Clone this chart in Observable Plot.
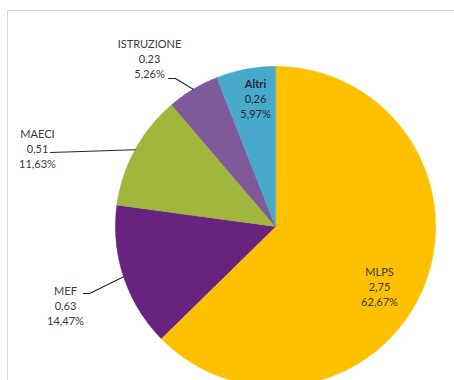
<!DOCTYPE html>
<html><head><meta charset="utf-8">
<script src="https://cdn.jsdelivr.net/npm/d3@7"></script>
<script src="https://cdn.jsdelivr.net/npm/@observablehq/plot@0.6"></script>
<style>
html,body{margin:0;padding:0;background:#fff;}
#wrap{position:relative;width:454px;height:380px;overflow:hidden;}
#frame{position:absolute;left:7px;top:10px;width:460px;height:400px;border:1px solid #d9d9d9;box-sizing:border-box;pointer-events:none;}
#chart{position:absolute;left:0;top:0;}
</style></head><body>
<div id="wrap"><div id="chart"></div><div id="frame"></div></div>
<script>
// ---- data ----
const categories = ["MLPS", "MEF", "MAECI", "ISTRUZIONE", "Altri"];
const values = [2.75, 0.63, 0.51, 0.23, 0.26];
const valueLabels = ["2,75", "0,63", "0,51", "0,23", "0,26"];
const shares = [62.67, 14.47, 11.63, 5.26, 5.97];
const shareLabels = ["62,67%", "14,47%", "11,63%", "5,26%", "5,97%"];
const colors = ["#FFC000", "#68237F", "#A1B63C", "#7E5A9B", "#49A9CB"];

// ---- layout (unit-circle coordinates: pie radius = 1) ----
const labelPos = {
  "MLPS": [0.65, -0.381],
  "Altri": [-0.125, 0.794],
  "ISTRUZIONE": [-0.7875, 1.041],
  "MAECI": [-1.4875, 0.484],
  "MEF": [-1.3125, -0.50]
};
const leaderStart = {
  "ISTRUZIONE": [[-0.669, 0.925], [-0.625, 0.925]],
  "MAECI": [[-1.406, 0.4625]],
  "MEF": [[-1.20, -0.419], [-1.1625, -0.419]]
};
const boldNames = ["Altri"];

const cx = 275, cy = 226, R = 160, LH = 15;

const rows = categories.map((name, i) => ({name, value: values[i], share: shares[i], vLabel: valueLabels[i], pLabel: shareLabels[i]}));
const arcs = d3.pie().sort(null).value(d => d.share)(rows);

// slice polygons
const slicePts = [];
for (const a of arcs) {
  const name = a.data.name;
  slicePts.push({name, x: 0, y: 0});
  const n = Math.max(2, Math.ceil((a.endAngle - a.startAngle) / (Math.PI / 180)));
  for (let k = 0; k <= n; k++) {
    const t = a.startAngle + (a.endAngle - a.startAngle) * k / n;
    slicePts.push({name, x: Math.sin(t), y: Math.cos(t)});
  }
}

// leader lines end on the slice mid-angle
const leaderPts = [];
for (const a of arcs) {
  const name = a.data.name;
  if (!leaderStart[name]) continue;
  for (const [x, y] of leaderStart[name]) leaderPts.push({name, x, y});
  const m = (a.startAngle + a.endAngle) / 2;
  leaderPts.push({name, x: Math.sin(m), y: Math.cos(m)});
}

// one text line per entry, offset by line index
const lines = [];
for (const r of rows) {
  const [x, y] = labelPos[r.name];
  const isBold = boldNames.includes(r.name);
  [r.name, r.vLabel, r.pLabel].forEach((t, li) => {
    lines.push({x, y, text: t, line: li, bold: isBold && li === 0, dark: isBold});
  });
}

const chart = Plot.plot({
  width: 454,
  height: 380,
  margin: 0,
  x: {domain: [-1, 1], range: [cx - R, cx + R], axis: null},
  y: {domain: [-1, 1], range: [cy + R, cy - R], axis: null},
  color: {domain: categories, range: colors},
  style: {fontFamily: "Lato, 'Open Sans', sans-serif", fontSize: "11px", background: "transparent", overflow: "hidden"},
  marks: [
    Plot.line(slicePts, {x: "x", y: "y", z: "name", fill: "name", stroke: "name", strokeWidth: 0.6, curve: "linear-closed"}),
    Plot.line(leaderPts, {x: "x", y: "y", z: "name", stroke: "#262626", strokeWidth: 1.1}),
    ...[0, 1, 2].map(li => Plot.text(lines.filter(d => d.line === li && !d.bold), {
      x: "x", y: "y", text: "text", dy: (li - 1) * LH, fontSize: 11,
      fill: d => d.dark ? "#1f2a36" : "#3a3a3a"
    })),
    Plot.text(lines.filter(d => d.bold), {x: "x", y: "y", text: "text", dy: -LH, fontSize: 11, fontWeight: "bold", fill: "#1f2a36"})
  ]
});
document.getElementById("chart").appendChild(chart);
</script>
</body></html>
